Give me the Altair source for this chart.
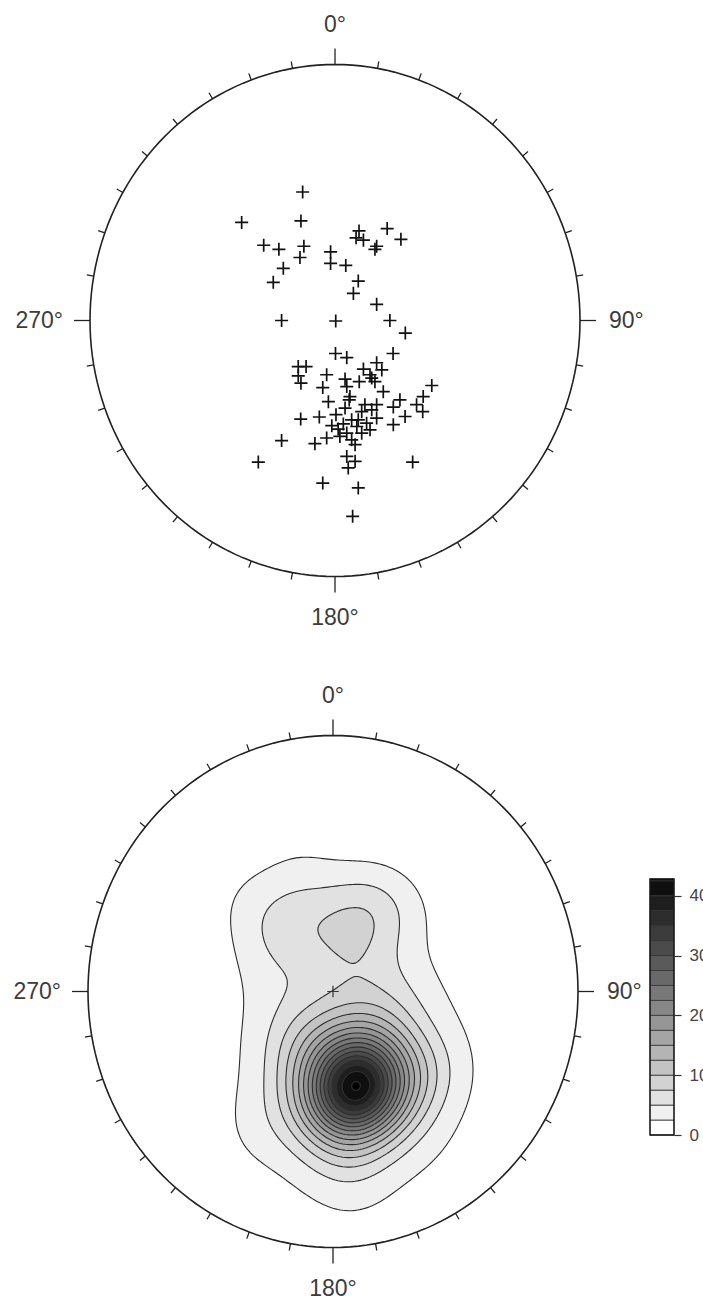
import math
import numpy as np
import pandas as pd
import altair as alt

# ------------------------------------------------------------------ data
# poles plotted on the upper net
# (unit-circle coordinates: east = +x, north = +y)
pole_east = [
    -0.132, -0.381, -0.139, 0.098, 0.213, 0.269, 0.086, 0.116, 0.170, 0.163,
    -0.291, -0.229, -0.127, -0.143, -0.018, -0.018, 0.044, -0.211, -0.252, 0.095,
    0.075, 0.170, -0.218, 0.003, 0.224, 0.287, 0.002, 0.048, 0.237,
    -0.150, -0.118, -0.150, -0.139, -0.034, -0.050, 0.041, 0.048, 0.116, 0.170,
    0.191, 0.150, 0.163, 0.143, 0.099, 0.197, 0.395, 0.360, 0.333, 0.358,
    0.265, 0.238, 0.286, 0.238, -0.027, 0.058, 0.041, 0.122, 0.150, 0.170,
    -0.140, -0.064, -0.013, 0.013, 0.034, 0.068, 0.089, 0.129, 0.109, 0.048,
    0.068, 0.082, -0.034, -0.082, -0.218, -0.313, 0.048, 0.082, 0.054, 0.317,
    -0.050, 0.095, 0.072, 0.095, 0.143, 0.020, 0.170, 0.109, 0.061, 0.004,
]
pole_north = [
    0.502, 0.383, 0.389, 0.350, 0.359, 0.317, 0.323, 0.314, 0.290, 0.278,
    0.294, 0.278, 0.290, 0.246, 0.268, 0.223, 0.215, 0.204, 0.149, 0.154,
    0.106, 0.063, 0.000, -0.002, 0.000, -0.049, -0.129, -0.145, -0.129,
    -0.180, -0.180, -0.216, -0.245, -0.212, -0.262, -0.229, -0.258, -0.190, -0.165,
    -0.193, -0.225, -0.239, -0.212, -0.239, -0.278, -0.254, -0.297, -0.329, -0.356,
    -0.310, -0.338, -0.375, -0.407, -0.317, -0.310, -0.342, -0.329, -0.349, -0.381,
    -0.385, -0.377, -0.411, -0.424, -0.404, -0.388, -0.414, -0.401, -0.440, -0.440,
    -0.466, -0.485, -0.459, -0.481, -0.469, -0.553, -0.531, -0.550, -0.576, -0.553,
    -0.635, -0.654, -0.765, -0.388, -0.427, -0.453, -0.329, -0.356, -0.297, -0.368,
]
# estimated number of coincident measurements under each cross
# (the dark, over-printed core of the lower cluster)
pole_count = [
    1, 1, 1, 1, 1, 1, 1, 1, 1, 1,
    1, 1, 1, 1, 1, 1, 1, 1, 1, 1,
    1, 1, 1, 1, 1, 1, 1, 1, 1, 1,
    1, 1, 1, 1, 1, 1, 1, 1, 1, 1,
    1, 1, 1, 1, 1, 1, 1, 1, 1, 1,
    1, 1, 1, 1, 3, 3, 3, 3, 3, 1,
    1, 1, 3, 3, 3, 3, 3, 3, 1, 1,
    1, 1, 1, 1, 1, 1, 1, 1, 1, 1,
    1, 1, 3, 3, 1, 3, 3, 1, 1,
]

# density contouring of the same poles (lower net)
contour_step = 2.5                 # contour interval
density_peak = 42.8                # top of the colour bar
kernel_widths = [0.12, 0.40]       # two-scale smoothing kernel (net radii)
kernel_weights = [1.0, 0.05]
colorbar_ticks = [0, 10, 20, 30, 40]

# azimuth labels round each net
azimuth_values = [0, 90, 180, 270]
azimuth_labels = ["0°", "90°", "180°", "270°"]

# ------------------------------------------------------------------ layout
W, H = 703, 1308
SX, SY = 245.0, 256.0                                   # pixels per net radius
NETS = {"upper": (335.0, 320.5), "lower": (333.0, 991.5)}   # pixel centres
UX, UY = NETS["upper"]
X_DOM = [-UX / SX, (W - UX) / SX]
Y_DOM = [-(H - UY) / SY, UY / SY]
CB_X0, CB_X1 = 650, 674
CB_BOTTOM, CB_TOP = 1135.0, 879.0
CB_PPU = (CB_BOTTOM - CB_TOP) / density_peak
CB_DOM = [-(H - CB_BOTTOM) / CB_PPU, CB_BOTTOM / CB_PPU]
FONT = "Liberation Sans"


def centre(name):
    px, py = NETS[name]
    return (px - UX) / SX, (UY - py) / SY


def grey(i, n=16):
    v = int(round(255 * (1 - i / n)))
    return "#%02x%02x%02x" % (v, v, v)


# ------------------------------------------------------------------ density grid
step = 0.01
g = np.arange(-1.1, 1.1 + step / 2, step)
GX, GY = np.meshgrid(g, g)
F = np.zeros_like(GX)
for a, b, n in zip(pole_east, pole_north, pole_count):
    d2 = (GX - a) ** 2 + (GY - b) ** 2
    for s, w in zip(kernel_widths, kernel_weights):
        F += n * w * np.exp(-d2 / (2 * s * s))
F *= density_peak / F.max()


def loops_at(L):
    B = F > L
    adj = {}

    def add(e1, e2):
        adj.setdefault(e1, []).append(e2)
        adj.setdefault(e2, []).append(e1)

    cnt = B[:-1, :-1].astype(int) + B[:-1, 1:] + B[1:, :-1] + B[1:, 1:]
    for j, i in zip(*np.nonzero((cnt > 0) & (cnt < 4))):
        i, j = int(i), int(j)
        b00, b10, b01, b11 = B[j, i], B[j, i + 1], B[j + 1, i], B[j + 1, i + 1]
        E = [("h", i, j), ("v", i + 1, j), ("h", i, j + 1), ("v", i, j)]
        cr = [b00 != b10, b10 != b11, b11 != b01, b01 != b00]
        idx = [k for k in range(4) if cr[k]]
        if len(idx) == 2:
            add(E[idx[0]], E[idx[1]])
        else:
            cc = (F[j, i] + F[j, i + 1] + F[j + 1, i] + F[j + 1, i + 1]) / 4 > L
            if cc == b00:
                add(E[0], E[1]); add(E[2], E[3])
            else:
                add(E[3], E[0]); add(E[1], E[2])

    def pt(e):
        kind, i, j = e
        if kind == "h":
            f0, f1 = F[j, i], F[j, i + 1]
            t = (L - f0) / (f1 - f0)
            return g[i] + t * step, g[j]
        f0, f1 = F[j, i], F[j + 1, i]
        t = (L - f0) / (f1 - f0)
        return g[i], g[j] + t * step

    loops, seen = [], set()
    for start in adj:
        if start in seen:
            continue
        seq = [start]
        seen.add(start)
        prev, cur = None, start
        while True:
            nb = adj[cur]
            nxt = nb[0] if nb[0] != prev else nb[1]
            if nxt in seen:
                break
            seq.append(nxt)
            seen.add(nxt)
            prev, cur = cur, nxt
        loops.append([pt(e) for e in seq])
    return loops


lcx, lcy = centre("lower")
n_levels = int(density_peak // contour_step)
cont_rows = []
for lev in range(1, n_levels + 1):
    for li, loop in enumerate(loops_at(lev * contour_step)):
        loop = loop + [loop[0]]
        for k, (u, v) in enumerate(loop):
            cont_rows.append(dict(level=lev, loop=f"{lev}-{li}", k=k,
                                  x=lcx + u, y=lcy + v))
cont_df = pd.DataFrame(cont_rows)

# ------------------------------------------------------------------ net frames
circ_rows, tick_rows, lab_rows = [], [], []
for net in NETS:
    cx, cy = centre(net)
    for a in range(0, 361, 2):
        t = math.radians(a)
        circ_rows.append(dict(net=net, k=a, x=cx + math.sin(t), y=cy + math.cos(t)))
    for a in range(0, 360, 10):
        t = math.radians(a)
        ln = 16 if a % 90 == 0 else 7
        x0, y0 = cx + math.sin(t), cy + math.cos(t)
        tick_rows.append(dict(x=x0, y=y0, x2=x0 + math.sin(t) * ln / SX,
                              y2=y0 + math.cos(t) * ln / SY))
    for a, lab in zip(azimuth_values, azimuth_labels):
        if a == 0:
            lab_rows.append(dict(label=lab, al="center", x=cx, y=cy + 1 + 40 / SY))
        elif a == 180:
            lab_rows.append(dict(label=lab, al="center", x=cx, y=cy - 1 - 41 / SY))
        elif a == 90:
            lab_rows.append(dict(label=lab, al="left", x=cx + 1 + 29 / SX, y=cy))
        else:
            lab_rows.append(dict(label=lab, al="right", x=cx - 1 - 27 / SX, y=cy))
circ_df = pd.DataFrame(circ_rows)
tick_df = pd.DataFrame(tick_rows)
lab_df = pd.DataFrame(lab_rows)
pole_df = pd.DataFrame(dict(x=pole_east, y=pole_north))
ctr_df = pd.DataFrame(dict(x=[lcx], y=[lcy]))

band_lo = [contour_step * i for i in range(n_levels + 1)]
band_hi = band_lo[1:] + [density_peak]
cb_df = pd.DataFrame(dict(lo=band_lo, hi=band_hi,
                          color=[grey(i, n_levels) for i in range(n_levels + 1)]))
cb_frame = pd.DataFrame(dict(lo=[0.0], hi=[density_peak]))

# ------------------------------------------------------------------ chart
sx = alt.Scale(domain=X_DOM, nice=False, zero=False)
sy = alt.Scale(domain=Y_DOM, nice=False, zero=False)


def XE(f="x"):
    return alt.X(f"{f}:Q", scale=sx, axis=None)


def YE(f="y"):
    return alt.Y(f"{f}:Q", scale=sy, axis=None)


CROSS = "M-1,0L1,0M0,-1L0,1"

layers = []
for lev in range(1, n_levels + 1):
    layers.append(
        alt.Chart(cont_df).transform_filter(alt.datum.level == lev)
        .mark_line(fill=grey(lev, n_levels), stroke="#2e2e2e", strokeWidth=1.1,
                   interpolate="linear")
        .encode(x=XE(), y=YE(), detail="loop:N", order="k:Q")
    )
layers.append(
    alt.Chart(circ_df).mark_line(color="#222222", strokeWidth=1.6)
    .encode(x=XE(), y=YE(), detail="net:N", order="k:Q"))
layers.append(
    alt.Chart(tick_df).mark_rule(color="#222222", strokeWidth=1.3)
    .encode(x=XE(), y=YE(), x2="x2:Q", y2="y2:Q"))
for al in ["center", "left", "right"]:
    layers.append(
        alt.Chart(lab_df).transform_filter(alt.datum.al == al)
        .mark_text(font=FONT, fontSize=23, color="#3c3c3c", align=al, baseline="middle")
        .encode(x=XE(), y=YE(), text="label:N"))
layers.append(
    alt.Chart(pole_df).mark_point(shape=CROSS, size=170, filled=False, color="#111111",
                                  strokeWidth=1.7, opacity=1)
    .encode(x=XE(), y=YE()))
layers.append(
    alt.Chart(ctr_df).mark_point(shape=CROSS, size=130, filled=False, color="#333333",
                                 strokeWidth=1.2, opacity=1)
    .encode(x=XE(), y=YE()))
nets = alt.layer(*layers)

cbs = alt.Scale(domain=CB_DOM, nice=False, zero=False)
cb_bands = alt.Chart(cb_df).mark_rect(stroke="#333333", strokeWidth=0.8).encode(
    x=alt.value(CB_X0), x2=alt.value(CB_X1),
    y=alt.Y("lo:Q", scale=cbs,
            axis=alt.Axis(orient="right", offset=CB_X1 - W, values=colorbar_ticks,
                          domain=False, grid=False, title=None, tickSize=7,
                          tickColor="#333333", tickWidth=1.2, labelFont=FONT,
                          labelFontSize=17, labelColor="#444444", labelPadding=8)),
    y2="hi:Q",
    fill=alt.Fill("color:N", scale=None),
)
cb_border = alt.Chart(cb_frame).mark_rect(fill="transparent", stroke="#111111",
                                          strokeWidth=1.3).encode(
    x=alt.value(CB_X0), x2=alt.value(CB_X1),
    y=alt.Y("lo:Q", scale=cbs), y2="hi:Q")
colorbar = alt.layer(cb_bands, cb_border)

chart = (
    alt.layer(nets, colorbar)
    .resolve_scale(y="independent")
    .properties(width=W, height=H, padding=0,
                autosize=alt.AutoSizeParams(type="none"))
    .configure_view(strokeWidth=0)
)
chart.save("out.html", embed_options={"renderer": "svg", "actions": False})
